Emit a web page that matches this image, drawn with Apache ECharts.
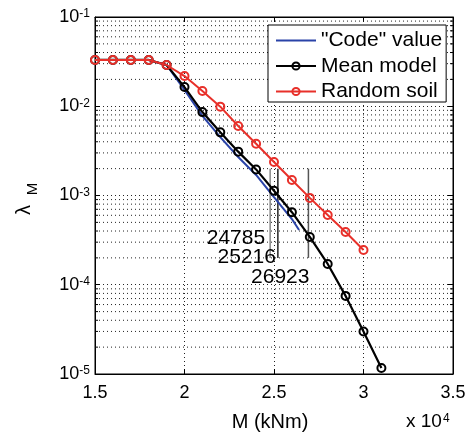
<!DOCTYPE html>
<html><head><meta charset="utf-8">
<script src="https://cdn.jsdelivr.net/npm/echarts@6/dist/echarts.min.js"></script>
<style>html,body{margin:0;padding:0;background:#fff}#c{width:470px;height:438px}</style>
</head><body><div id="c"></div>
<script>
// ---- data ----
const meanMoments = [15000,16000,17000,18000,19000,20000,21000,22000,23000,24000,25000,26000,27000,28000,29000,30000,31000];
const meanValues  = [0.033,0.033,0.033,0.033,0.029,0.0164,0.0086,0.0051,0.0031,0.00196,0.00113,0.00065,0.000343,0.000171,7.5e-5,3.0e-5,1.17e-5];
const randomMoments = [15000,16000,17000,18000,19000,20000,21000,22000,23000,24000,25000,26000,27000,28000,29000,30000];
const randomValues  = [0.033,0.033,0.033,0.033,0.029,0.0218,0.0148,0.0099,0.0060,0.0038,0.00237,0.00149,0.00094,0.000605,0.00039,0.000245];
const codeMoments = [15000,16000,17000,18000,19000,20000,21000,22000,23000,24000,25000,26000,26400];
const codeValues  = [0.033,0.033,0.033,0.033,0.029,0.0152,0.0078,0.0045,0.0027,0.0017,0.00096,0.000545,0.00041];
const xTickValues = [15000,20000,25000,30000,35000];
const yDecades = [1e-5,1e-4,1e-3,1e-2,1e-1];
const annoMoments = [24785,25216,26923];
const annoLabels = ['24785','25216','26923'];
const annoRange = [2e-4,2e-3];
const seriesNames = ['"Code" value','Mean model','Random soil'];

const FONT = '"Liberation Sans", Arial, Helvetica, sans-serif';
const minorValues = [];
for (let d = 0; d < yDecades.length - 1; d++) {
  for (let k = 2; k <= 9; k++) minorValues.push(yDecades[d] * k);
}
const zip = (xs, ys) => xs.map((x, i) => [x, ys[i]]);

const chart = echarts.init(document.getElementById('c'), null, {renderer: 'canvas'});
const dotted = {color: '#222', width: 1, type: [1, 3]};

const option = {
  animation: false,
  backgroundColor: '#fff',
  grid: {left: 95, right: 17, top: 17, bottom: 64, show: true, borderColor: '#000', borderWidth: 1, backgroundColor: 'transparent'},
  xAxis: [{
    type: 'value', min: xTickValues[0], max: xTickValues[xTickValues.length-1], interval: 5000,
    axisLine: {show: true, lineStyle: {color: '#000', width: 1}},
    axisTick: {show: true, inside: true, length: 5, lineStyle: {color: '#000'}},
    axisLabel: {color: '#000', fontSize: 18, fontFamily: FONT, margin: 10,
      formatter: v => String(v / 10000)},
    splitLine: {show: true, lineStyle: dotted}
  }, {
    type: 'value', position: 'top', min: xTickValues[0], max: xTickValues[xTickValues.length-1], interval: 5000,
    axisLine: {show: true, lineStyle: {color: '#000'}},
    axisTick: {show: true, inside: true, length: 5, lineStyle: {color: '#000'}},
    axisLabel: {show: false}, splitLine: {show: false}
  }],
  yAxis: [{
    type: 'log', logBase: 10, min: yDecades[0], max: yDecades[yDecades.length-1], splitNumber: 4,
    axisLine: {show: true, lineStyle: {color: '#000'}},
    axisTick: {show: true, inside: true, length: 5, lineStyle: {color: '#000'}},
    axisLabel: {
      color: '#000', margin: 5,
      formatter: v => '{b|10}{s|' + Math.round(Math.log10(v)) + '}',
      rich: {
        b: {fontSize: 18, fontFamily: FONT, color: '#000', lineHeight: 18, padding: [6, 0, 6, 0]},
        s: {fontSize: 12, fontFamily: FONT, color: '#000', lineHeight: 12, verticalAlign: 'top', padding: [0, 0, 18, 0]}
      }
    },
    splitLine: {show: true, lineStyle: dotted}
  }, {
    type: 'log', logBase: 10, position: 'right', min: yDecades[0], max: yDecades[yDecades.length-1], splitNumber: 4,
    axisLine: {show: true, lineStyle: {color: '#000'}},
    axisTick: {show: true, inside: true, length: 5, lineStyle: {color: '#000'}},
    axisLabel: {show: false}, splitLine: {show: false}
  }],
  legend: {
    orient: 'vertical', left: 268, top: 25,
    backgroundColor: '#fff', borderColor: '#000', borderWidth: 1, borderRadius: 0,
    padding: [5, 4, 0, 7], itemGap: 4.5, itemWidth: 40, itemHeight: 9,
    textStyle: {fontSize: 21, fontFamily: FONT, color: '#000', lineHeight: 21},
    data: [
      {name: seriesNames[0], itemStyle: {opacity: 0}},
      {name: seriesNames[1]},
      {name: seriesNames[2]}
    ]
  },
  series: [
    {
      type: 'custom', name: 'minorGrid', z: 1, silent: true,
      data: minorValues.map(v => [xTickValues[0], v]),
      encode: {x: 0, y: 1},
      renderItem: (params, api) => {
        const cs = params.coordSys;
        const y = api.coord([xTickValues[0], api.value(1)])[1];
        return {type: 'group', children: [
          {type: 'line', shape: {x1: cs.x, y1: y, x2: cs.x + cs.width, y2: y}, style: {stroke: '#222', lineWidth: 1, lineDash: [1, 3]}},
          {type: 'line', shape: {x1: cs.x, y1: y, x2: cs.x + 3, y2: y}, style: {stroke: '#000', lineWidth: 1}},
          {type: 'line', shape: {x1: cs.x + cs.width - 3, y1: y, x2: cs.x + cs.width, y2: y}, style: {stroke: '#000', lineWidth: 1}}
        ]};
      }
    },
    {
      type: 'custom', name: 'annotations', z: 3, silent: true,
      data: annoMoments.map(m => [m, annoRange[0]]),
      encode: {x: 0, y: 1},
      renderItem: (params, api) => {
        const i = params.dataIndex;
        const x = api.value(0);
        const top = api.coord([x, annoRange[1]]);
        const bot = api.coord([x, annoRange[0]]);
        const colors = ['#888', '#222', '#555'];
        const dx = [-5, -2, 1];
        const dy = [-20, -1, 19];
        return {type: 'group', children: [
          {type: 'line', shape: {x1: top[0], y1: top[1], x2: bot[0], y2: bot[1]}, style: {stroke: colors[i], lineWidth: 1.5}},
          {type: 'text', x: bot[0] + dx[i], y: bot[1] + dy[i], style: {text: annoLabels[i], fontSize: 21, fontFamily: FONT, fill: '#000', align: 'right', verticalAlign: 'middle'}}
        ]};
      }
    },
    {
      type: 'line', name: seriesNames[0], data: zip(codeMoments, codeValues), z: 4,
      showSymbol: false, symbol: 'none',
      lineStyle: {color: '#2a43a8', width: 2}, itemStyle: {color: '#2a43a8'}
    },
    {
      type: 'line', name: seriesNames[1], data: zip(meanMoments, meanValues), z: 5,
      symbol: 'circle', symbolSize: 8,
      lineStyle: {color: '#000', width: 2.2},
      itemStyle: {color: 'rgba(0,0,0,0)', borderColor: '#000', borderWidth: 2}
    },
    {
      type: 'line', name: seriesNames[2], data: zip(randomMoments, randomValues), z: 6,
      symbol: 'circle', symbolSize: 8,
      lineStyle: {color: '#e8302a', width: 2},
      itemStyle: {color: 'rgba(0,0,0,0)', borderColor: '#e8302a', borderWidth: 2}
    }
  ],
  graphic: [
    {type: 'text', x: 24, y: 210, rotation: Math.PI / 2, style: {text: 'λ', fontSize: 20, fontFamily: FONT, fill: '#000', align: 'center', verticalAlign: 'middle'}},
    {type: 'text', x: 33, y: 189, rotation: Math.PI / 2, style: {text: 'M', fontSize: 15, fontFamily: FONT, fill: '#000', align: 'center', verticalAlign: 'middle'}},
    {type: 'text', x: 270, y: 422, style: {text: 'M (kNm)', fontSize: 20, fontFamily: FONT, fill: '#000', align: 'center', verticalAlign: 'middle'}},
    {type: 'text', x: 406, y: 422, style: {
      text: '{a|x 10}{b|4}', fontFamily: FONT, fill: '#000', align: 'left', verticalAlign: 'middle',
      rich: {
        a: {fontSize: 19, fontFamily: FONT, fill: '#000', lineHeight: 19, padding: [5, 0, 5, 0]},
        b: {fontSize: 12, fontFamily: FONT, fill: '#000', lineHeight: 12, verticalAlign: 'top', padding: [0, 0, 17, 1]}
      }
    }}
  ]
};
chart.setOption(option);
</script>
</body></html>
